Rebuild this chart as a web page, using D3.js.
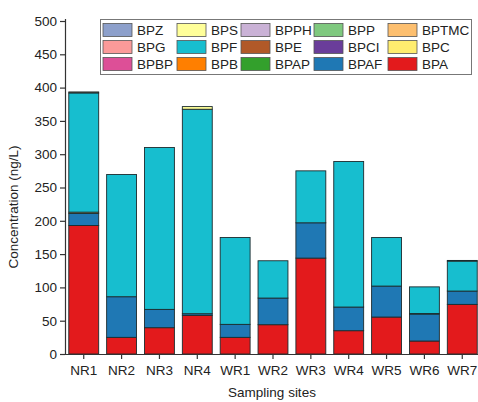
<!DOCTYPE html>
<html>
<head>
<meta charset="utf-8">
<script src="https://cdn.jsdelivr.net/npm/d3@7"></script>
<style>
body { margin: 0; background: #fff; }
text { font-family: "Liberation Sans", Arial, sans-serif; fill: #222; }
</style>
</head>
<body>
<svg id="chart"></svg>
<script>
// sampling sites
var sites = ["NR1", "NR2", "NR3", "NR4", "WR1", "WR2", "WR3", "WR4", "WR5", "WR6", "WR7"];

// concentrations (ng/L) per bisphenol
var BPA   = [193, 25, 39.5, 58, 25, 44, 144, 35, 55.5, 19.5, 74.5];
var BPAF  = [18, 61, 27.5, 2.5, 19.5, 40, 53, 35.5, 46.5, 40.5, 20];
var BPAP  = [0, 0, 0, 0, 0, 0, 0, 0, 0, 0.8, 0];
var BPB   = [0, 0, 0, 0, 0, 0, 0, 0, 0, 0, 0];
var BPBP  = [0, 0, 0, 0, 0, 0, 0, 0, 0, 0, 0];
var BPC   = [2, 0, 0, 0, 0, 0, 0, 0, 0, 0, 0];
var BPCI  = [0, 0, 0, 0, 0, 0, 0, 0, 0, 0, 0];
var BPE   = [0, 0, 0, 0, 0, 0, 0, 0, 0, 0, 0];
var BPF   = [179, 183.5, 243, 307, 130.5, 56, 78, 218.5, 73, 40, 45];
var BPG   = [0, 0, 0, 0, 0, 0, 0, 0, 0, 0, 0];
var BPTMC = [1.5, 0, 0, 0, 0, 0, 0, 0, 0, 0, 0];
var BPP   = [0, 0, 0, 0, 0, 0, 0, 0, 0, 0, 1];
var BPPH  = [0, 0, 0, 0, 0, 0, 0, 0, 0, 0, 0];
var BPS   = [0, 0, 0, 4, 0, 0, 0, 0, 0, 0, 0];
var BPZ   = [0, 0, 0, 0, 0, 0, 0, 0, 0, 0, 0];

var yTicks = [0, 50, 100, 150, 200, 250, 300, 350, 400, 450, 500];

// stacking order, bottom first
var series = [
  {name: "BPA", values: BPA, color: "#e31a1c"},
  {name: "BPAF", values: BPAF, color: "#1f78b4"},
  {name: "BPAP", values: BPAP, color: "#33a02c"},
  {name: "BPB", values: BPB, color: "#ff7f00"},
  {name: "BPBP", values: BPBP, color: "#dd4f97"},
  {name: "BPC", values: BPC, color: "#ffed6f"},
  {name: "BPCI", values: BPCI, color: "#6a3d9a"},
  {name: "BPE", values: BPE, color: "#b15928"},
  {name: "BPF", values: BPF, color: "#17becf"},
  {name: "BPG", values: BPG, color: "#fb9a99"},
  {name: "BPTMC", values: BPTMC, color: "#fdbf6f"},
  {name: "BPP", values: BPP, color: "#7fc97f"},
  {name: "BPPH", values: BPPH, color: "#cab2d6"},
  {name: "BPS", values: BPS, color: "#ffff99"},
  {name: "BPZ", values: BPZ, color: "#8da0cb"}
];

// legend layout, rows top to bottom
var legendRows = [
  ["BPZ", "BPS", "BPPH", "BPP", "BPTMC"],
  ["BPG", "BPF", "BPE", "BPCI", "BPC"],
  ["BPBP", "BPB", "BPAP", "BPAF", "BPA"]
];
var legendColX = [103, 177, 241, 314, 388];

var width = 478, height = 402;
var margins = {top: 21, left: 65, bottom: 48, right: -3};

var svg = d3.select("#chart").attr("width", width).attr("height", height);
svg.append("rect").attr("width", width).attr("height", height).attr("fill", "#fff");

var x = d3.scaleBand().domain(sites)
  .range([margins.left, width - margins.right])
  .paddingInner(0.21).paddingOuter(0.1);
var y = d3.scaleLinear().domain([0, 500]).range([height - margins.bottom, margins.top]);

// stack the table
var table = sites.map(function(s, i) {
  var row = {site: s};
  series.forEach(function(d) { row[d.name] = d.values[i]; });
  return row;
});
var stack = d3.stack().keys(series.map(function(d) { return d.name; }));
var layers = stack(table);

var g = svg.append("g");
layers.forEach(function(layer, k) {
  g.selectAll(null)
    .data(layer.filter(function(d) { return d[1] - d[0] > 0; }))
    .enter()
    .append("rect")
    .attr("x", function(d) { return x(d.data.site); })
    .attr("width", x.bandwidth())
    .attr("y", function(d) { return y(d[1]); })
    .attr("height", function(d) { return y(d[0]) - y(d[1]); })
    .attr("fill", series[k].color)
    .attr("stroke", "#1c2b2e")
    .attr("stroke-width", 0.9);
});

// axes
var yAxis = d3.axisLeft(y).tickValues(yTicks).tickSize(5).tickPadding(3);
var yG = svg.append("g").attr("transform", "translate(" + margins.left + ",0)").call(yAxis);
var xAxis = d3.axisBottom(x).tickSize(5).tickPadding(6);
var xG = svg.append("g").attr("transform", "translate(0," + (height - margins.bottom) + ")").call(xAxis);
xG.select(".domain").attr("d", "M" + margins.left + ",0.5H" + width);
[yG, xG].forEach(function(a) {
  a.selectAll("path, line").attr("stroke", "#333").attr("stroke-width", 1.2);
  a.selectAll("text").attr("font-size", 13.5).attr("fill", "#222")
    .style("font-family", "'Liberation Sans', Arial, sans-serif");
});
yG.select(".domain").attr("d", "M0.5," + y(0) + "V" + (y(500) - 2));

svg.append("text")
  .attr("transform", "translate(18," + 207 + ") rotate(-90)")
  .attr("text-anchor", "middle")
  .attr("font-size", 13.5)
  .text("Concentration (ng/L)");

svg.append("text")
  .attr("x", 272).attr("y", 397)
  .attr("text-anchor", "middle")
  .attr("font-size", 13.5)
  .text("Sampling sites");

// legend
var colorOf = {};
series.forEach(function(d) { colorOf[d.name] = d.color; });
var lg = svg.append("g");
lg.append("rect").attr("x", 100.5).attr("y", 19.5).attr("width", 371).attr("height", 55)
  .attr("fill", "#fff").attr("stroke", "#777").attr("stroke-width", 1);
legendRows.forEach(function(row, r) {
  row.forEach(function(name, c) {
    var lx = legendColX[c], ly = 23.5 + r * 17;
    lg.append("rect").attr("x", lx).attr("y", ly).attr("width", 29).attr("height", 13)
      .attr("fill", colorOf[name]).attr("stroke", "#555").attr("stroke-width", 0.8);
    lg.append("text").attr("x", lx + 34).attr("y", ly + 11.5)
      .attr("font-size", 13.5).text(name);
  });
});
</script>
</body>
</html>
